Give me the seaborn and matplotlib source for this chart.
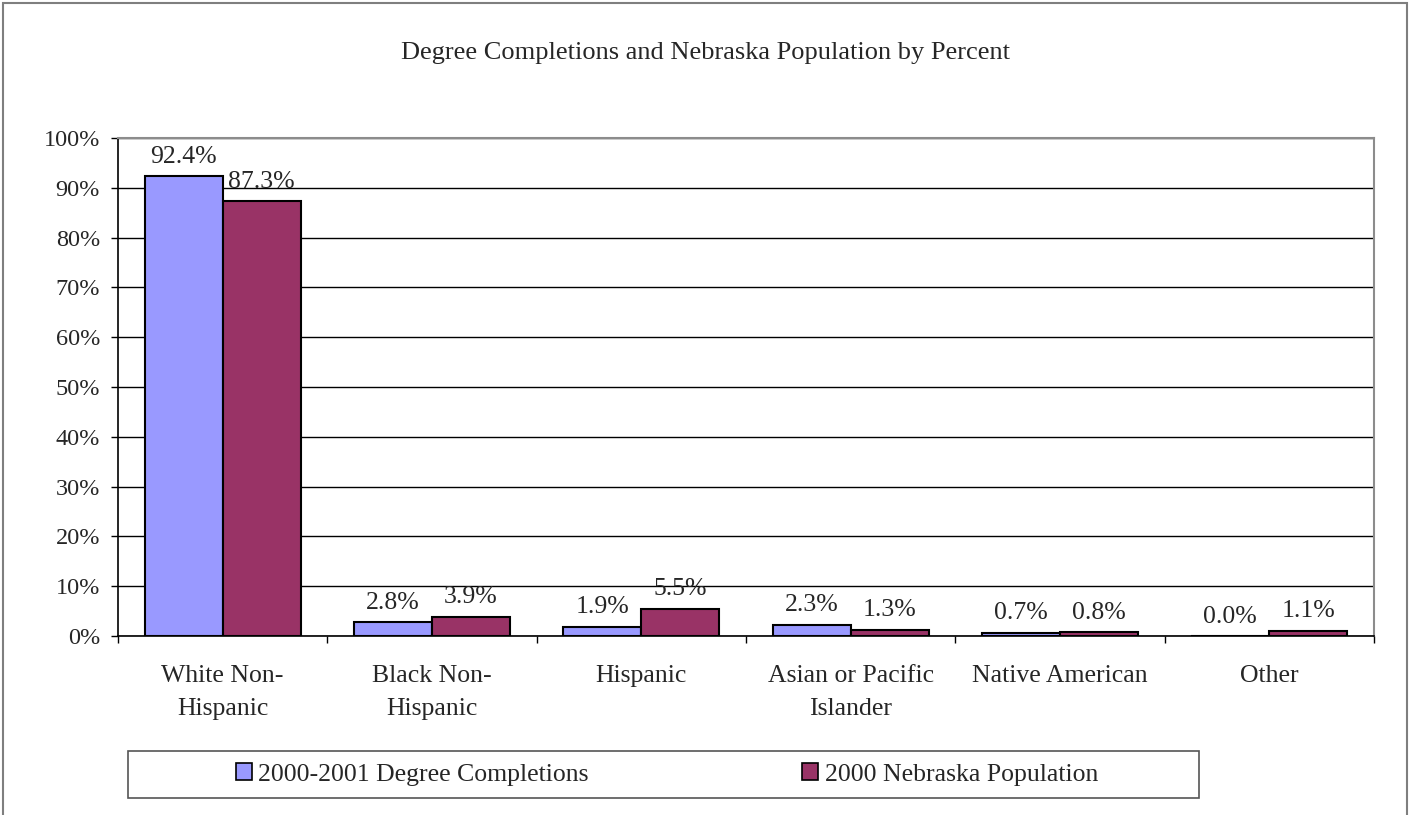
import pandas as pd
import numpy as np
import matplotlib
matplotlib.use("Agg")
import matplotlib.pyplot as plt
import seaborn as sns
from matplotlib.patches import Patch, Rectangle
from matplotlib.ticker import FixedLocator, FuncFormatter

# Datos
categorias = ['White Non-\nHispanic', 'Black Non-\nHispanic', 'Hispanic',
              'Asian or Pacific\nIslander', 'Native American', 'Other']
completions = [92.4, 2.8, 1.9, 2.3, 0.7, 0.0]
poblacion = [87.3, 3.9, 5.5, 1.3, 0.8, 1.1]
series = ['2000-2001 Degree Completions', '2000 Nebraska Population']
colores = ['#9999FF', '#993366']

df = pd.DataFrame({
    'Categoria': categorias * 2,
    'Serie': [series[0]] * len(categorias) + [series[1]] * len(categorias),
    'Valor': completions + poblacion,
})

sns.set_theme(style='white')
plt.rcParams['font.family'] = ['Liberation Serif', 'DejaVu Serif']

W, H = 1411, 815
fig = plt.figure(figsize=(W / 100, H / 100), dpi=100)

# borde exterior del grafico
fig.patches.append(Rectangle((3 / W, -0.05), 1404 / W, 1.05 - 3 / H, transform=fig.transFigure,
                             fill=False, edgecolor='#7f7f7f', linewidth=1.5))

ax = fig.add_axes([118 / W, 1 - 636 / H, (1374 - 118) / W, (636 - 138) / H])

sns.barplot(data=df, x='Categoria', y='Valor', hue='Serie', palette=colores,
            width=0.745, gap=0, edgecolor='black', linewidth=1.5, saturation=1,
            legend=False, ax=ax, zorder=3)

for cont in ax.containers:
    ax.bar_label(cont, labels=[f'{b.get_height():.1f}%' for b in cont],
                 padding=6, fontsize=18.5)

ax.set_xlim(-0.5, len(categorias) - 0.5)
ax.set_ylim(0, 100)
ax.set_yticks(np.arange(0, 101, 10))
ax.yaxis.set_major_formatter(FuncFormatter(lambda v, p: f'{v:.0f}%'))
ax.grid(axis='y', color='black', linewidth=1, zorder=0)
ax.set_axisbelow(True)

ax.xaxis.set_minor_locator(FixedLocator(np.arange(-0.5, len(categorias), 1)))
ax.tick_params(axis='x', which='major', length=0, pad=21, labelsize=18.5)
ax.tick_params(axis='x', which='minor', length=5, width=1, color='black', direction='out', bottom=True)
ax.tick_params(axis='y', which='major', length=5, width=1, color='black', direction='out',
               left=True, pad=8, labelsize=17.5)
for lab in ax.get_xticklabels():
    lab.set_linespacing(1.65)
ax.set_xlabel('')
ax.set_ylabel('')

for s in ['left', 'bottom']:
    ax.spines[s].set_color('black')
    ax.spines[s].set_linewidth(1.2)
for s in ['top', 'right']:
    ax.spines[s].set_color('#8c8c8c')
    ax.spines[s].set_linewidth(1.5)

fig.text(0.5, 1 - 53 / H, 'Degree Completions and Nebraska Population by Percent',
         ha='center', va='center', fontsize=19)

# leyenda
fig.patches.append(Rectangle((128 / W, 1 - 798 / H), 1071 / W, 47 / H, transform=fig.transFigure,
                             fill=False, edgecolor='#555555', linewidth=1.2))
handles = [Patch(facecolor=c, edgecolor='black', linewidth=1.2) for c in colores]
fig.legend(handles, series, loc='center', bbox_to_anchor=(667 / W, 1 - 774.5 / H),
           ncol=2, frameon=False, fontsize=18.5, handlelength=0.62, handleheight=0.62,
           handletextpad=0.25, columnspacing=8.3)

fig.savefig('out.png', dpi=100)
